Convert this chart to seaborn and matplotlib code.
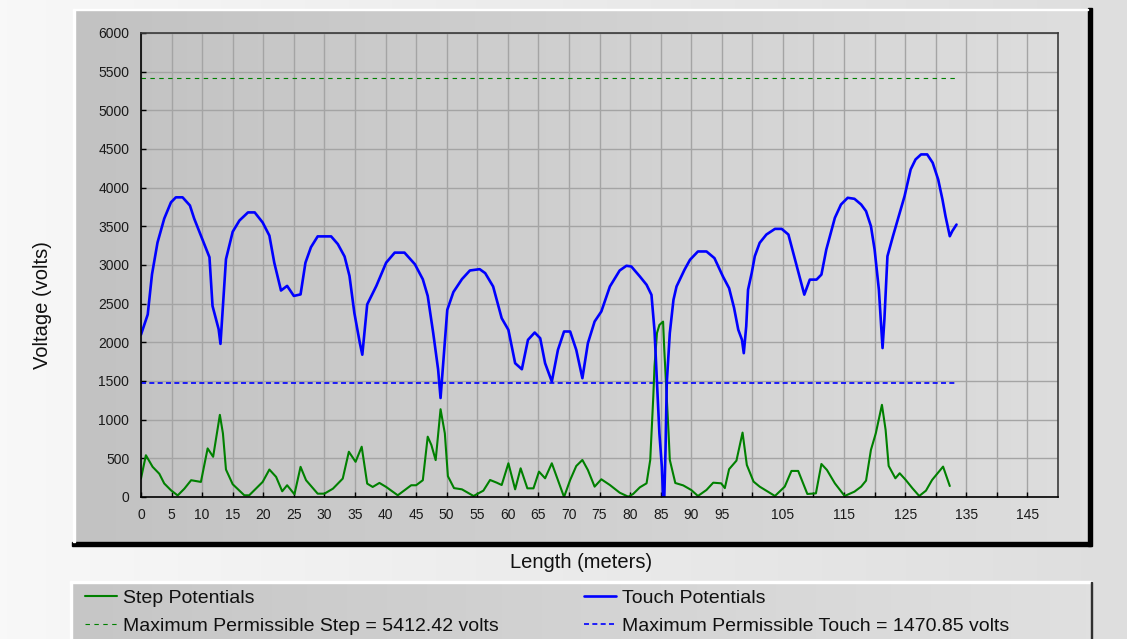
import numpy as np
import pandas as pd
import matplotlib
matplotlib.use("Agg")
import matplotlib.pyplot as plt
import seaborn as sns
from matplotlib.colors import LinearSegmentedColormap
from matplotlib.patches import Rectangle

# ---------------- data ----------------
step_x = [0.0, 0.8, 1.9, 3.0, 3.8, 4.9, 6.0, 7.1, 8.2, 9.8, 10.9, 11.8, 12.9, 13.4, 13.9,
          15.0, 16.9, 17.7, 19.9, 21.0, 22.1, 23.1, 23.9, 25.1, 26.1, 27.0, 28.9, 30.0,
          31.4, 33.0, 34.0, 35.1, 36.1, 37.0, 37.9, 39.0, 40.1, 42.0, 44.2, 45.0, 46.1,
          46.9, 47.5, 48.2, 49.0, 49.7, 50.2, 51.2, 52.5, 54.4, 56.0, 57.1, 58.2, 59.0,
          60.1, 61.2, 62.1, 63.2, 64.2, 65.1, 66.1, 67.2, 68.2, 69.2, 70.2, 71.2, 72.2,
          73.1, 74.2, 75.3, 76.7, 78.3, 79.7, 80.5, 81.6, 82.7, 83.3, 83.8, 84.0, 84.4,
          84.8, 85.4, 85.6, 86.0, 86.3, 86.5, 87.4, 88.7, 90.0, 91.1, 92.5, 93.6, 94.9,
          95.5, 96.2, 97.4, 98.4, 99.1, 100.2, 101.2, 103.7, 105.3, 106.4, 107.5, 109.0,
          110.4, 111.3, 112.2, 113.5, 115.1, 116.7, 117.8, 118.6, 119.4, 120.2, 121.2,
          121.8, 122.3, 123.4, 124.1, 125.1, 126.2, 127.3, 128.4, 129.4, 130.3, 131.2,
          132.3]
step_v = [240, 540, 390, 300, 175, 87, 20, 108, 217, 195, 628, 520, 1062, 823, 355,
          165, 22, 22, 195, 355, 260, 74, 152, 35, 390, 217, 43, 43,
          108, 238, 585, 455, 650, 173, 130, 182, 130, 22, 152, 152, 217,
          780, 672, 477, 1135, 823, 269, 115, 99, 13, 82, 220, 185, 155,
          436, 99, 371, 112, 112, 328, 242, 436, 220, 0, 220, 401, 479,
          349, 134, 229, 155, 56, 4, 39, 125, 177, 480, 1300, 1690, 2120,
          2225, 2268, 1900, 1300, 826, 480, 181, 150, 91, 13, 91, 185, 177,
          115, 360, 470, 833, 414, 199, 134, 13, 134, 337, 337, 39,
          47, 427, 350, 177, 13, 69, 134, 212, 609, 825, 1192,
          868, 402, 242, 307, 220, 112, 13, 82, 220, 307, 393,
          142]

touch_x = [0.0, 1.1, 1.8, 2.7, 3.8, 4.9, 5.7, 6.8, 8.0, 8.7, 9.8, 11.2, 11.7, 12.7, 13.0,
           13.4, 13.9, 15.0, 16.1, 17.5, 18.6, 19.9, 21.0, 21.8, 22.9, 23.9, 25.0, 26.1,
           26.9, 27.8, 28.9, 31.1, 32.2, 33.3, 34.1, 34.9, 35.8, 36.2, 37.0, 38.5, 40.1,
           41.5, 43.1, 44.8, 46.1, 46.9, 47.8, 48.6, 49.0, 49.4, 50.1, 51.1, 52.5, 53.8,
           55.4, 56.3, 57.6, 59.0, 60.1, 61.2, 62.3, 63.3, 64.4, 65.3, 66.1, 67.2, 68.2,
           69.2, 70.2, 71.2, 72.2, 73.1, 74.2, 75.3, 76.7, 78.3, 79.4, 80.2, 81.6, 82.7,
           83.5, 84.0, 84.4, 84.8, 85.2, 85.4, 85.6, 85.8, 86.0, 86.5, 87.1, 87.6, 88.9,
           89.8, 91.1, 92.5, 93.8, 95.2, 96.2, 97.0, 97.7, 98.3, 98.6, 99.0, 99.3, 99.9,
           100.4, 101.2, 102.3, 103.7, 104.8, 105.9, 106.7, 107.8, 108.5, 109.4, 110.5,
           111.3, 112.1, 113.5, 114.5, 115.6, 116.7, 117.8, 118.6, 119.4, 120.0, 120.7,
           121.1, 121.3, 121.6, 122.1, 123.0, 123.8, 124.9, 125.9, 126.7, 127.6, 128.6,
           129.5, 130.4, 131.1, 131.6, 132.3, 132.7, 133.4]
touch_v = [2100, 2360, 2880, 3290, 3600, 3810, 3875, 3875, 3770, 3600, 3380, 3100, 2470, 2170, 1980,
           2470, 3075, 3430, 3575, 3680, 3680, 3550, 3380, 3030, 2670, 2730, 2600, 2620,
           3030, 3230, 3370, 3370, 3270, 3110, 2860, 2380, 1990, 1840, 2490, 2730, 3030,
           3160, 3160, 3010, 2815, 2600, 2120, 1650, 1280, 1690, 2420, 2650, 2817, 2929,
           2946, 2895, 2722, 2312, 2161, 1730, 1652, 2032, 2127, 2053, 1730, 1493, 1902,
           2140, 2140, 1902, 1536, 1989, 2269, 2399, 2722, 2929, 2990, 2981, 2852, 2744,
           2614, 2150, 1470, 820, 390, 0, 0, 610, 1470, 2120, 2550, 2722, 2938,
           3067, 3175, 3175, 3089, 2850, 2700, 2450, 2163, 2034, 1860, 2206, 2681, 2897,
           3113, 3286, 3394, 3467, 3467, 3394, 3156, 2832, 2617, 2811, 2811,
           2876, 3200, 3610, 3782, 3869, 3856, 3782, 3696, 3502, 3200, 2681,
           2163, 1926, 2293, 3113, 3372, 3588, 3890, 4236, 4365, 4430, 4430,
           4322, 4106, 3847, 3631, 3372, 3437, 3523]

max_step = 5412.42
max_touch = 1470.85

x_ticks = list(range(0, 150, 5))
x_tick_labels = [str(t) if (t < 100 or t % 10 == 5) else "" for t in x_ticks]
y_ticks = list(range(0, 6001, 500))

legend_labels = ["Step Potentials",
                 "Maximum Permissible Step = 5412.42 volts",
                 "Touch Potentials",
                 "Maximum Permissible Touch = 1470.85 volts"]
x_label = "Length (meters)"
y_label = "Voltage (volts)"

# ---------------- styling ----------------
sns.set_style("ticks")
plt.rcParams["font.family"] = ["Liberation Sans", "DejaVu Sans"]

W, H = 1127, 639
fig = plt.figure(figsize=(W / 100, H / 100), dpi=100)
fig.patch.set_facecolor("white")

bg = fig.add_axes([0, 0, 1, 1], zorder=0)
bg.axis("off")


def grad(x0, x1, y0, y1, c0, c1):
    cmap = LinearSegmentedColormap.from_list("g", [c0, c1])
    bg.imshow(np.linspace(0, 1, 256)[None, :], cmap=cmap, extent=(x0, x1, y1, y0),
              aspect="auto", interpolation="bilinear", zorder=0)


# outer background
grad(0, W, 0, H, "#f8f8f8", "#dedede")
# chart panel + shadow
grad(75, 1088, 10, 542, "#c2c2c2", "#dedede")
bg.add_patch(Rectangle((1088, 8), 3.5, 537.5, color="black", zorder=2))
bg.add_patch(Rectangle((72, 542), 1019, 3.5, color="black", zorder=2))
bg.add_patch(Rectangle((73, 9), 1015, 1.2, color="white", zorder=2))
bg.add_patch(Rectangle((73, 9), 1.5, 533, color="white", zorder=2))
# legend box
grad(71, 1092, 582, H, "#c6c6c6", "#e0e0e0")
bg.add_patch(Rectangle((70, 581), 1022, 1.5, color="white", zorder=2))
bg.add_patch(Rectangle((70, 581), 1.5, 60, color="white", zorder=2))
bg.add_patch(Rectangle((1091, 582), 1.2, 60, color="#303030", zorder=2))
bg.set_xlim(0, W)
bg.set_ylim(H, 0)

# plot axes
ax = fig.add_axes([141 / W, 1 - 497 / H, 917 / W, 464 / H], zorder=2)
ax.patch.set_alpha(0)

green = "#008000"
blue = "#0000ff"

sns.lineplot(x=[0, touch_x[-1]], y=[max_step, max_step], ax=ax, color=green,
             linewidth=0.8, linestyle=(0, (4, 4)), sort=False, estimator=None)
sns.lineplot(x=[0, touch_x[-1]], y=[max_touch, max_touch], ax=ax, color=blue,
             linewidth=1.2, linestyle=(0, (3, 2)), sort=False, estimator=None)
sns.lineplot(x=step_x, y=step_v, ax=ax, color=green, linewidth=1.5,
             sort=False, estimator=None)
sns.lineplot(x=touch_x, y=touch_v, ax=ax, color=blue, linewidth=1.9,
             sort=False, estimator=None)

lines = ax.get_lines()
h_ms, h_mt, h_s, h_t = lines[0], lines[1], lines[2], lines[3]

ax.set_xlim(0, 150)
ax.set_ylim(0, 6000)
ax.set_xticks(x_ticks)
ax.set_xticklabels(x_tick_labels)
ax.set_yticks(y_ticks)
ax.set_yticklabels([str(t) for t in y_ticks])
ax.grid(True, color="#a4a4a4", linewidth=1.0)
ax.set_axisbelow(True)
ax.tick_params(axis="both", direction="in", length=3.5, width=1, colors="black",
               labelsize=10, labelcolor="#1a1a1a")
ax.tick_params(axis="x", pad=8)
ax.tick_params(axis="y", pad=8.5)
for side in ["left", "bottom"]:
    ax.spines[side].set_color("black")
    ax.spines[side].set_linewidth(1.2)
for side in ["top", "right"]:
    ax.spines[side].set_visible(True)
    ax.spines[side].set_color("#3a3a3a")
    ax.spines[side].set_linewidth(1.2)
ax.set_xlabel("")
ax.set_ylabel("")

fig.text(581.5 / W, 1 - 563 / H, x_label, ha="center", va="center",
         fontsize=14.5, color="#111111")
fig.text(42.5 / W, 1 - 305 / H, y_label, ha="center", va="center",
         rotation=90, fontsize=14.5, color="#111111")

leg = ax.legend([h_s, h_ms, h_t, h_mt], legend_labels, ncol=2, loc="upper left",
                bbox_to_anchor=(85 / W, 1 - 589 / H), bbox_transform=fig.transFigure,
                frameon=False, borderpad=0, borderaxespad=0, fontsize=14,
                handlelength=1.64, handletextpad=0.31, columnspacing=4.37,
                labelspacing=0.55)
for t in leg.get_texts():
    t.set_color("#111111")

fig.savefig("out.png", dpi=100)
